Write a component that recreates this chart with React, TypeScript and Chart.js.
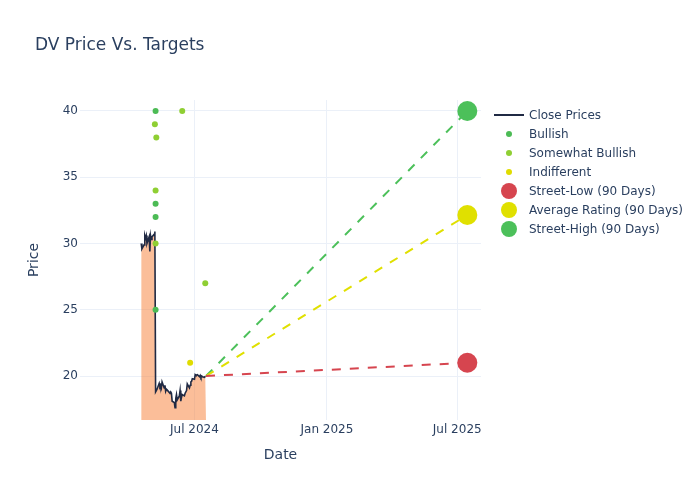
import React, { useEffect, useRef } from "react";
import { Chart, registerables } from "chart.js";

Chart.register(...registerables);

// ---------- data ----------
const priceDates = [
  "2024-04-18", "2024-04-19", "2024-04-22", "2024-04-23", "2024-04-24", "2024-04-25", "2024-04-26",
  "2024-04-29", "2024-04-30", "2024-05-01", "2024-05-02", "2024-05-03", "2024-05-06", "2024-05-07",
  "2024-05-08", "2024-05-09", "2024-05-10", "2024-05-13", "2024-05-14", "2024-05-15", "2024-05-16",
  "2024-05-17", "2024-05-20", "2024-05-21", "2024-05-22", "2024-05-23", "2024-05-24", "2024-05-28",
  "2024-05-29", "2024-05-30", "2024-05-31", "2024-06-03", "2024-06-04", "2024-06-05", "2024-06-06",
  "2024-06-07", "2024-06-10", "2024-06-11", "2024-06-12", "2024-06-13", "2024-06-14", "2024-06-17",
  "2024-06-18", "2024-06-20", "2024-06-21", "2024-06-24", "2024-06-25", "2024-06-26", "2024-06-27",
  "2024-06-28", "2024-07-01", "2024-07-02", "2024-07-03", "2024-07-05", "2024-07-08", "2024-07-09",
  "2024-07-10", "2024-07-11", "2024-07-12", "2024-07-15", "2024-07-16", "2024-07-17",
];
const closePrices = [
  30.0, 29.6, 29.9, 30.6, 30.4, 30.6, 30.0,
  30.5, 29.4, 30.6, 30.3, 30.5, 30.7, 30.9,
  18.8, 18.9, 19.0, 19.45, 19.2, 19.3, 19.1,
  19.55, 19.1, 19.3, 18.85, 19.0, 18.95, 18.7,
  18.8, 18.7, 18.1, 18.0, 17.6, 18.3, 18.6,
  18.2, 18.5, 18.9, 18.1, 18.4, 18.6, 18.5,
  18.7, 18.9, 19.4, 19.1, 19.3, 19.55, 19.6,
  19.8, 19.75, 20.1, 20.05, 20.1, 19.95, 20.05,
  19.9, 20.0, 19.95, 19.9, 20.0, 20.0,
];

const bullishDates = ["2024-05-08", "2024-05-08", "2024-05-08", "2024-05-08"];
const bullishTargets = [40, 33, 32, 25];
const somewhatBullishDates = ["2024-05-07", "2024-05-09", "2024-05-08", "2024-05-08", "2024-06-14", "2024-07-16"];
const somewhatBullishTargets = [39, 38, 34, 30, 40, 27];
const indifferentDates = ["2024-06-25"];
const indifferentTargets = [21];

const projectionStartDate = "2024-07-17";
const projectionStartPrice = 20.0;
const projectionEndDate = "2025-07-15";
const streetLow = 21.0;
const averageRating = 32.15;
const streetHigh = 40.0;

const xTickDates = ["2024-07-01", "2025-01-01", "2025-07-01"];
const xTickLabels = ["Jul 2024", "Jan 2025", "Jul 2025"];
const yTickValues = [20, 25, 30, 35, 40];
const xRange = ["2024-01-24", "2025-08-03"];
const yRange = [16.68, 40.83];

// ---------- styles ----------
const FONT = "'DejaVu Sans', sans-serif";
const TEXT = "#2a3f5f";
const GRID = "#ebf0f8";
const PRICE_LINE = "#202a44";
const PRICE_FILL = "rgba(247,125,52,0.5)";
const C_BULL = "#4cbb55";
const C_SOMEWHAT = "#8fcf33";
const C_INDIFF = "#e0dc00";
const C_LOW = "#d6454f";
const C_AVG = "#e0e000";
const C_HIGH = "#4cc05a";

const day = (s: string) => Date.parse(s) / 864e5;

const legendItems = [
  { label: "Close Prices", kind: "line", color: PRICE_LINE, r: 0 },
  { label: "Bullish", kind: "dot", color: C_BULL, r: 3 },
  { label: "Somewhat Bullish", kind: "dot", color: C_SOMEWHAT, r: 3 },
  { label: "Indifferent", kind: "dot", color: C_INDIFF, r: 3 },
  { label: "Street-Low (90 Days)", kind: "dot", color: C_LOW, r: 8 },
  { label: "Average Rating (90 Days)", kind: "dot", color: C_AVG, r: 8 },
  { label: "Street-High (90 Days)", kind: "dot", color: C_HIGH, r: 8 },
];

export default function App() {
  const ref = useRef<HTMLCanvasElement | null>(null);

  useEffect(() => {
    if (!ref.current) return;
    const pts = (ds: string[], vs: number[]) => ds.map((d, i) => ({ x: day(d), y: vs[i] }));
    const proj = (target: number) => [
      { x: day(projectionStartDate), y: projectionStartPrice },
      { x: day(projectionEndDate), y: target },
    ];
    const scatter = (label: string, data: any[], color: string, r: number, order: number) => ({
      type: "scatter" as const,
      label,
      data,
      backgroundColor: color,
      borderColor: color,
      pointRadius: r,
      pointBorderWidth: 0,
      pointHoverRadius: r,
      showLine: false,
      order,
      clip: false as any,
    });
    const dashed = (label: string, data: any[], color: string) => ({
      type: "line" as const,
      label,
      data,
      borderColor: color,
      borderWidth: 2,
      borderDash: [9, 9],
      pointRadius: 0,
      fill: false,
      order: 10,
    });

    const chart = new Chart(ref.current, {
      type: "line",
      data: {
        datasets: [
          {
            type: "line",
            label: "Close Prices",
            data: pts(priceDates, closePrices),
            borderColor: PRICE_LINE,
            borderWidth: 1.6,
            backgroundColor: PRICE_FILL,
            fill: "start",
            pointRadius: 0,
            tension: 0,
            order: 9,
          },
          dashed("Street-Low line", proj(streetLow), C_LOW),
          dashed("Average line", proj(averageRating), C_AVG),
          dashed("Street-High line", proj(streetHigh), C_HIGH),
          scatter("Bullish", pts(bullishDates, bullishTargets), C_BULL, 3, 2),
          scatter("Somewhat Bullish", pts(somewhatBullishDates, somewhatBullishTargets), C_SOMEWHAT, 3, 2),
          scatter("Indifferent", pts(indifferentDates, indifferentTargets), C_INDIFF, 3, 2),
          scatter("Street-Low (90 Days)", [{ x: day(projectionEndDate), y: streetLow }], C_LOW, 10, 1),
          scatter("Average Rating (90 Days)", [{ x: day(projectionEndDate), y: averageRating }], C_AVG, 10, 1),
          scatter("Street-High (90 Days)", [{ x: day(projectionEndDate), y: streetHigh }], C_HIGH, 10, 1),
        ] as any,
      },
      options: {
        animation: false,
        responsive: true,
        maintainAspectRatio: false,
        layout: { padding: { left: 0, right: 219, top: 100, bottom: 0 } },
        plugins: {
          legend: { display: false },
          title: { display: false },
          tooltip: { enabled: false },
        },
        scales: {
          x: {
            type: "linear",
            min: day(xRange[0]),
            max: day(xRange[1]),
            grid: { color: GRID, lineWidth: 1, drawTicks: false },
            border: { display: false },
            afterBuildTicks: (s: any) => {
              s.ticks = xTickDates.map((d) => ({ value: day(d) }));
            },
            afterFit: (s: any) => {
              s.height = 80;
            },
            ticks: {
              padding: 3,
              maxRotation: 0,
              autoSkip: false,
              color: TEXT,
              font: { family: FONT, size: 12 },
              callback: (v: any) => {
                const i = xTickDates.findIndex((d) => Math.abs(day(d) - v) < 0.5);
                return i >= 0 ? xTickLabels[i] : "";
              },
            },
            title: {
              display: true,
              text: "Date",
              color: TEXT,
              font: { family: FONT, size: 14 },
              padding: { top: 0, bottom: 36 },
            },
          },
          y: {
            type: "linear",
            min: yRange[0],
            max: yRange[1],
            grid: { color: GRID, lineWidth: 1, drawTicks: false },
            border: { display: false },
            afterBuildTicks: (s: any) => {
              s.ticks = yTickValues.map((v) => ({ value: v }));
            },
            afterFit: (s: any) => {
              s.width = 80;
            },
            ticks: {
              padding: 2,
              color: TEXT,
              font: { family: FONT, size: 12 },
              callback: (v: any) => String(v),
            },
            title: {
              display: true,
              text: "Price",
              color: TEXT,
              font: { family: FONT, size: 14 },
              padding: { top: 26, bottom: 0 },
            },
          },
        },
      } as any,
    });
    return () => chart.destroy();
  }, []);

  return (
    <div style={{ position: "absolute", left: 0, top: 0, width: 700, height: 500, background: "#fff" }}>
      <canvas ref={ref} width={700} height={500} />
      <div
        style={{
          position: "absolute",
          left: 35,
          top: 33,
          fontFamily: FONT,
          fontSize: 17,
          lineHeight: "22px",
          color: TEXT,
          whiteSpace: "nowrap",
        }}
      >
        DV Price Vs. Targets
      </div>
      {legendItems.map((it, i) => {
        const cy = 114.5 + i * 19;
        return (
          <React.Fragment key={it.label}>
            {it.kind === "line" ? (
              <div
                style={{
                  position: "absolute",
                  left: 494,
                  top: cy - 1,
                  width: 30,
                  height: 2,
                  background: it.color,
                }}
              />
            ) : (
              <div
                style={{
                  position: "absolute",
                  left: 509 - it.r,
                  top: cy - it.r,
                  width: it.r * 2,
                  height: it.r * 2,
                  borderRadius: "50%",
                  background: it.color,
                }}
              />
            )}
            <div
              style={{
                position: "absolute",
                left: 529,
                top: cy - 8,
                height: 16,
                lineHeight: "16px",
                fontFamily: FONT,
                fontSize: 12,
                color: TEXT,
                whiteSpace: "nowrap",
              }}
            >
              {it.label}
            </div>
          </React.Fragment>
        );
      })}
    </div>
  );
}
